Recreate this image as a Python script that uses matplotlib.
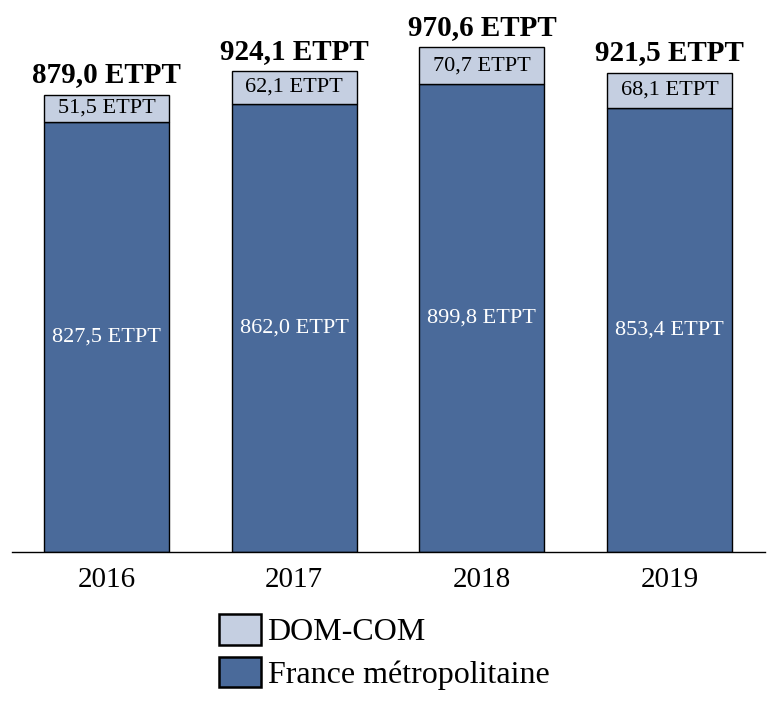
import matplotlib
matplotlib.use("Agg")
import matplotlib.pyplot as plt
from matplotlib.patches import Patch

years = ["2016", "2017", "2018", "2019"]
metro = [827.5, 862.0, 899.8, 853.4]
domcom = [51.5, 62.1, 70.7, 68.1]
totals = [879.0, 924.1, 970.6, 921.5]
c_metro = "#4A6A9A"
c_dom = "#C5CFE1"

def fr(v):
    return f"{v:.1f}".replace(".", ",") + " ETPT"

plt.rcParams['font.family'] = ['Liberation Serif', 'DejaVu Serif']

fig = plt.figure(figsize=(7.77, 7.10), dpi=100)
ax = fig.add_axes([12/777, 158/710, 753/777, 542/710])
x = list(range(len(years)))
w = 0.666
ax.bar(x, metro, width=w, color=c_metro, edgecolor="black", linewidth=1.0)
ax.bar(x, domcom, bottom=metro, width=w, color=c_dom, edgecolor="black", linewidth=1.0)
for i in x:
    ax.text(i, metro[i]/2, fr(metro[i]), ha="center", va="center", color="white", fontsize=16)
    ax.text(i, metro[i] + domcom[i]/2, fr(domcom[i]), ha="center", va="center", color="black", fontsize=16)
    ax.text(i, totals[i] + 12, fr(totals[i]), ha="center", va="bottom", color="black", fontsize=21, fontweight="bold")
ax.set_xlim(-0.503, 3.508)
ax.set_ylim(0, 1042)
ax.set_xticks(x)
ax.set_xticklabels(years, fontsize=21)
ax.tick_params(axis="x", length=0, pad=11)
ax.set_yticks([])
for s in ["top", "left", "right"]:
    ax.spines[s].set_visible(False)
ax.spines["bottom"].set_linewidth(1.0)

handles = [Patch(facecolor=c_dom, edgecolor="black", linewidth=1.8, label="DOM-COM"),
           Patch(facecolor=c_metro, edgecolor="black", linewidth=1.8, label="France métropolitaine")]
fig.legend(handles=handles, loc="upper left", bbox_to_anchor=(219/777, 1 - 614/710), frameon=False,
           fontsize=23, handlelength=1.3, handleheight=1.1, handletextpad=0.22, labelspacing=0.3,
           borderpad=0, borderaxespad=0)
fig.savefig("out.png", dpi=100)
